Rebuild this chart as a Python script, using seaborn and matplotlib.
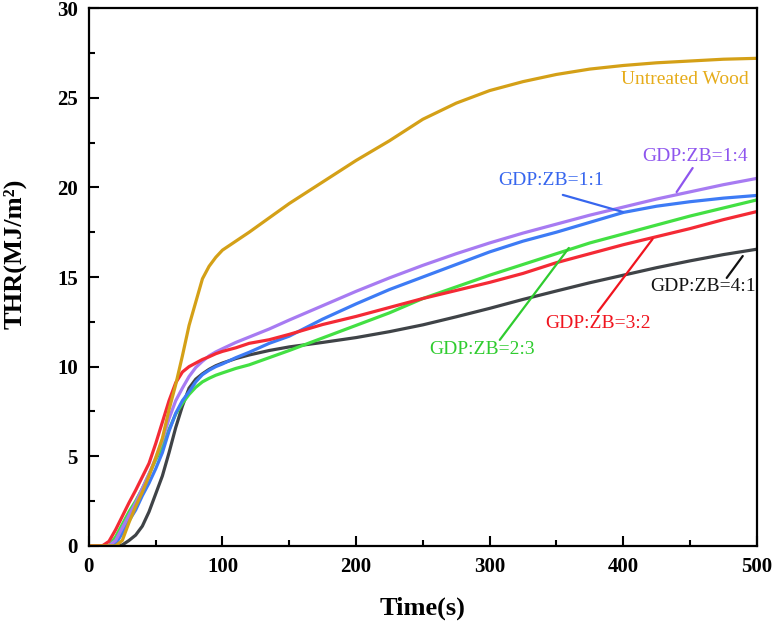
import matplotlib
matplotlib.use("Agg")
import numpy as np
import pandas as pd
import matplotlib.pyplot as plt
import seaborn as sns
from matplotlib.ticker import MultipleLocator

# ── Data ──────────────────────────────────────────────────────────────────────

time_s = [0, 10, 15, 20, 25, 30, 35, 40, 45, 50, 55, 60, 65, 70, 75, 80, 85, 90, 95,
          100, 110, 120, 135, 150, 175, 200, 225, 250, 275, 300, 325, 350, 375,
          400, 425, 450, 475, 500]

thr_wood = [0, 0, 0, 0, 0.3, 1.3, 2.2, 3.0, 3.9, 4.9, 6.0, 7.6, 9.0, 10.6, 12.3, 13.6,
            14.9, 15.6, 16.1, 16.5, 17.0, 17.5, 18.3, 19.1, 20.3, 21.5, 22.6, 23.8,
            24.7, 25.4, 25.9, 26.3, 26.6, 26.8, 26.95, 27.05, 27.15, 27.2]
thr_1_4 = [0, 0, 0, 0.3, 1.0, 1.7, 2.4, 3.2, 4.0, 4.9, 5.9, 7.1, 8.1, 8.8, 9.45, 9.95,
           10.3, 10.6, 10.82, 11.0, 11.35, 11.65, 12.1, 12.6, 13.4, 14.2, 14.95, 15.65,
           16.3, 16.9, 17.45, 17.95, 18.45, 18.9, 19.35, 19.75, 20.15, 20.5]
thr_1_1 = [0, 0, 0, 0.1, 0.7, 1.4, 2.0, 2.8, 3.5, 4.3, 5.2, 6.4, 7.4, 8.1, 8.6, 9.15,
           9.55, 9.8, 10.0, 10.15, 10.5, 10.8, 11.3, 11.7, 12.65, 13.5, 14.3, 15.0,
           15.7, 16.4, 17.0, 17.5, 18.05, 18.6, 18.95, 19.2, 19.4, 19.55]
thr_2_3 = [0, 0, 0, 0.5, 1.2, 1.9, 2.5, 3.2, 4.0, 4.8, 5.5, 6.5, 7.35, 7.95, 8.45, 8.85,
           9.15, 9.35, 9.52, 9.65, 9.9, 10.1, 10.5, 10.9, 11.6, 12.3, 13.0, 13.8,
           14.45, 15.1, 15.7, 16.3, 16.9, 17.4, 17.9, 18.4, 18.85, 19.3]
thr_3_2 = [0, 0, 0.25, 0.9, 1.65, 2.4, 3.1, 3.85, 4.6, 5.7, 6.9, 8.1, 9.1, 9.7, 10.0,
           10.2, 10.4, 10.55, 10.72, 10.85, 11.05, 11.3, 11.5, 11.8, 12.35, 12.8, 13.3,
           13.8, 14.25, 14.7, 15.2, 15.8, 16.3, 16.8, 17.25, 17.7, 18.2, 18.65]
thr_4_1 = [0, 0, 0, 0, 0.05, 0.3, 0.6, 1.1, 1.9, 2.9, 3.9, 5.2, 6.6, 7.8, 8.8, 9.3,
           9.6, 9.85, 10.05, 10.2, 10.45, 10.65, 10.9, 11.1, 11.35, 11.62, 11.95, 12.33,
           12.78, 13.25, 13.75, 14.22, 14.68, 15.1, 15.52, 15.9, 16.25, 16.55]

samples = ["GDP:ZB=4:1", "GDP:ZB=2:3", "GDP:ZB=1:1", "GDP:ZB=1:4", "GDP:ZB=3:2", "Untreated Wood"]
series = [thr_4_1, thr_2_3, thr_1_1, thr_1_4, thr_3_2, thr_wood]
line_colors = ["#3F4347", "#43E043", "#3D7BF5", "#A77BF2", "#F42A35", "#D4A017"]
text_colors = ["#111111", "#2FCC2F", "#3766EE", "#8E55EE", "#F0141E", "#E6AC1A"]

# label centre (x, y) and leader line (from, to) in data units
label_pos = [(459.8, 14.46), (294.5, 10.93), (346.3, 20.4), (453.6, 21.7), (381.0, 12.42), (446.0, 26.0)]
leader_from = [(477.5, 14.95), (307.6, 11.49), (354.8, 19.58), (452.0, 21.08), (381.0, 13.05), None]
leader_to = [(489.5, 16.17), (359.3, 16.62), (399.7, 18.63), (440.0, 19.74), (422.0, 17.12), None]

df = pd.concat(
    [pd.DataFrame({"time": time_s, "thr": vals, "sample": name}) for name, vals in zip(samples, series)],
    ignore_index=True,
)

# ── Style ─────────────────────────────────────────────────────────────────────

sns.set_theme(style="ticks")
plt.rcParams["font.family"] = ["Liberation Serif", "DejaVu Serif"]

fig = plt.figure(figsize=(7.73, 6.26), dpi=100)
ax = fig.add_axes([0.115, 0.128, 0.864, 0.859])

sns.lineplot(data=df, x="time", y="thr", hue="sample", hue_order=samples,
             palette=dict(zip(samples, line_colors)), linewidth=2.3,
             errorbar=None, legend=False, ax=ax)

for name, (tx, ty), a, b, tc in zip(samples, label_pos, leader_from, leader_to, text_colors):
    ax.text(tx, ty, name, color=tc, fontsize=14, ha="center", va="center")
    if a is not None:
        ax.annotate("", xy=b, xytext=a,
                    arrowprops=dict(arrowstyle="-", color=tc, lw=1.6, shrinkA=0, shrinkB=0))

ax.set_xlim(0, 500)
ax.set_ylim(0, 30)
ax.xaxis.set_major_locator(MultipleLocator(100))
ax.xaxis.set_minor_locator(MultipleLocator(50))
ax.yaxis.set_major_locator(MultipleLocator(5))
ax.yaxis.set_minor_locator(MultipleLocator(2.5))
ax.tick_params(which="both", direction="in", top=False, right=False, width=1.5, colors="black")
ax.tick_params(which="major", length=7, labelsize=15, pad=8)
ax.tick_params(which="minor", length=4)
plt.setp(ax.get_xticklabels() + ax.get_yticklabels(), fontweight="bold", color="black")

for sp in ax.spines.values():
    sp.set_linewidth(1.6)
    sp.set_color("black")

ax.set_xlabel("Time(s)", fontsize=19, fontweight="bold", labelpad=14, color="black")
ax.set_ylabel("THR(MJ/m²)", fontsize=19, fontweight="bold", color="black")
ax.yaxis.set_label_coords(-0.093, 0.543)

fig.savefig("out.png", dpi=100)
plt.close(fig)
